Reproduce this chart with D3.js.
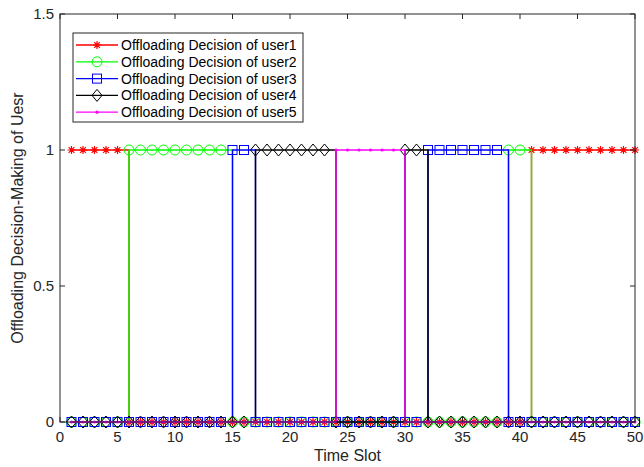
<!DOCTYPE html>
<html>
<head>
<meta charset="utf-8">
<script src="https://cdn.jsdelivr.net/npm/d3@7"></script>
<style>
  body { margin: 0; background: #fff; }
  svg { font-family: "Liberation Sans", Arial, sans-serif; }
</style>
</head>
<body>
<div id="chart"></div>
<script>
// time slots 1..50
const slots = d3.range(1, 51)

// offloading decision per user (1 = offload) for each slot
const user1 = [1,1,1,1,1,0,0,0,0,0, 0,0,0,0,0,0,0,0,0,0, 0,0,0,0,0,0,0,0,0,0, 0,0,0,0,0,0,0,0,0,0, 1,1,1,1,1,1,1,1,1,1]
const user2 = [0,0,0,0,0,1,1,1,1,1, 1,1,1,1,0,0,0,0,0,0, 0,0,0,0,0,0,0,0,0,0, 0,0,0,0,0,0,0,0,1,1, 0,0,0,0,0,0,0,0,0,0]
const user3 = [0,0,0,0,0,0,0,0,0,0, 0,0,0,0,1,1,0,0,0,0, 0,0,0,0,0,0,0,0,0,0, 0,1,1,1,1,1,1,1,0,0, 0,0,0,0,0,0,0,0,0,0]
const user4 = [0,0,0,0,0,0,0,0,0,0, 0,0,0,0,0,0,1,1,1,1, 1,1,1,0,0,0,0,0,0,1, 1,0,0,0,0,0,0,0,0,0, 0,0,0,0,0,0,0,0,0,0]
const user5 = [0,0,0,0,0,0,0,0,0,0, 0,0,0,0,0,0,0,0,0,0, 0,0,0,1,1,1,1,1,1,0, 0,0,0,0,0,0,0,0,0,0, 0,0,0,0,0,0,0,0,0,0]

const seriesNames = ['Offloading Decision of user1', 'Offloading Decision of user2',
  'Offloading Decision of user3', 'Offloading Decision of user4', 'Offloading Decision of user5']
const seriesColors = ['#ff0000', '#00ff00', '#0000ff', '#000000', '#ff00ff']
const seriesMarkers = ['star', 'circle', 'square', 'diamond', 'dot']
const xTicks = [0, 5, 10, 15, 20, 25, 30, 35, 40, 45, 50]
const yTicks = [0, 0.5, 1, 1.5]

const series = [user1, user2, user3, user4, user5].map((vals, i) => ({
  name: seriesNames[i], color: seriesColors[i], marker: seriesMarkers[i],
  points: slots.map((s, j) => [s, vals[j]])
}))

const width = 644, height = 467
const plotL = 60, plotR = 635, plotT = 14, plotB = 422
const axisColor = '#262626'

const svg = d3.select('#chart').append('svg')
  .attr('width', width).attr('height', height)

const x = d3.scaleLinear().domain([0, 50]).range([plotL, plotR])
const y = d3.scaleLinear().domain([0, 1.5]).range([plotB, plotT])

// draws one marker shape centred on 0,0
function drawMarker(g, type, color) {
  if (type === 'star') {
    const r = 4
    g.append('path')
      .attr('d', `M${-r},0H${r}M0,${-r}V${r}M${-r*0.72},${-r*0.72}L${r*0.72},${r*0.72}M${-r*0.72},${r*0.72}L${r*0.72},${-r*0.72}`)
      .attr('stroke', color).attr('stroke-width', 1.2).attr('fill', 'none')
  } else if (type === 'circle') {
    g.append('circle').attr('r', 5)
      .attr('stroke', color).attr('stroke-width', 1).attr('fill', 'none')
  } else if (type === 'square') {
    g.append('rect').attr('x', -4.5).attr('y', -4.5).attr('width', 9).attr('height', 9)
      .attr('stroke', color).attr('stroke-width', 1).attr('fill', 'none')
  } else if (type === 'diamond') {
    g.append('path').attr('d', 'M0,-6L5,0L0,6L-5,0Z')
      .attr('stroke', color).attr('stroke-width', 1).attr('fill', 'none')
  } else {
    g.append('circle').attr('r', 1.6).attr('fill', color)
  }
}

const line = d3.line()
  .x(d => x(d[0]))
  .y(d => y(d[1]))
  .curve(d3.curveStepAfter)

series.forEach(s => {
  const g = svg.append('g')
  g.append('path')
    .attr('d', line(s.points))
    .attr('fill', 'none')
    .attr('stroke', s.color)
    .attr('stroke-width', 1.4)
  s.points.forEach(p => {
    const m = g.append('g').attr('transform', `translate(${x(p[0])},${y(p[1])})`)
    drawMarker(m, s.marker, s.color)
  })
})

// axes box
svg.append('rect')
  .attr('x', plotL).attr('y', plotT)
  .attr('width', plotR - plotL).attr('height', plotB - plotT)
  .attr('fill', 'none').attr('stroke', axisColor).attr('stroke-width', 1)

// inward ticks
xTicks.forEach(t => {
  svg.append('line').attr('x1', x(t)).attr('x2', x(t)).attr('y1', plotB).attr('y2', plotB - 5)
    .attr('stroke', axisColor)
  svg.append('line').attr('x1', x(t)).attr('x2', x(t)).attr('y1', plotT).attr('y2', plotT + 5)
    .attr('stroke', axisColor)
  svg.append('text').attr('x', x(t)).attr('y', plotB + 20)
    .attr('text-anchor', 'middle').attr('font-size', 15).attr('fill', axisColor)
    .text(t)
})
yTicks.forEach(t => {
  svg.append('line').attr('x1', plotL).attr('x2', plotL + 5).attr('y1', y(t)).attr('y2', y(t))
    .attr('stroke', axisColor)
  svg.append('line').attr('x1', plotR).attr('x2', plotR - 5).attr('y1', y(t)).attr('y2', y(t))
    .attr('stroke', axisColor)
  svg.append('text').attr('x', plotL - 6).attr('y', y(t) + 5)
    .attr('text-anchor', 'end').attr('font-size', 15).attr('fill', axisColor)
    .text(t)
})

svg.append('text')
  .attr('x', (plotL + plotR) / 2).attr('y', 461)
  .attr('text-anchor', 'middle').attr('font-size', 16).attr('fill', axisColor)
  .text('Time Slot')

svg.append('text')
  .attr('transform', `translate(23,${(plotT + plotB) / 2}) rotate(-90)`)
  .attr('text-anchor', 'middle').attr('font-size', 16).attr('fill', axisColor)
  .text('Offloading Decision-Making of Uesr')

// legend
const legend = svg.append('g')
legend.append('rect')
  .attr('x', 73).attr('y', 33).attr('width', 230).attr('height', 89)
  .attr('fill', '#fff').attr('stroke', axisColor).attr('stroke-width', 1)
series.forEach((s, i) => {
  const ly = 45 + i * 16.8
  legend.append('line').attr('x1', 76).attr('x2', 118).attr('y1', ly).attr('y2', ly)
    .attr('stroke', s.color).attr('stroke-width', 1.3)
  const m = legend.append('g').attr('transform', `translate(97,${ly})`)
  drawMarker(m, s.marker, s.color)
  legend.append('text').attr('x', 121).attr('y', ly + 5)
    .attr('font-size', 14).attr('fill', '#000')
    .text(s.name)
})
</script>
</body>
</html>
